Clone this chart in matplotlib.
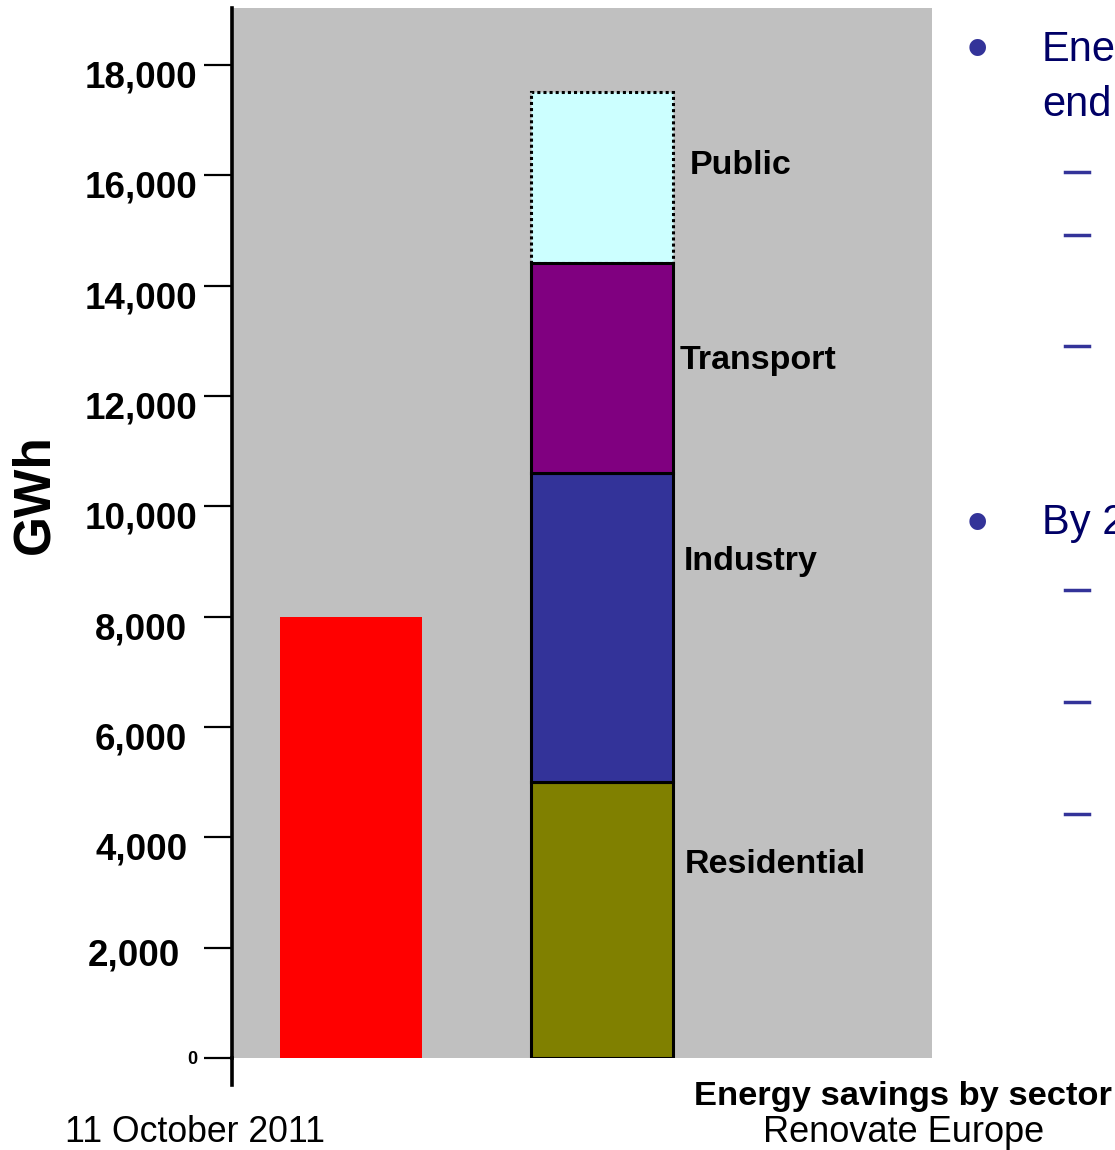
import matplotlib
matplotlib.use("Agg")
import matplotlib.pyplot as plt
import matplotlib.transforms as mtransforms
from matplotlib.lines import Line2D

plt.rcParams['font.family'] = ['Liberation Sans', 'DejaVu Sans']

# ---- data ----
baseline_value = 8000
sectors = ["Residential", "Industry", "Transport", "Public"]
sector_values = [5000, 5600, 3800, 3100]
sector_colors = ["#808000", "#333399", "#800080", "#CCFFFF"]
yticks = [0, 2000, 4000, 6000, 8000, 10000, 12000, 14000, 16000, 18000]
ytick_labels = ["0", "2,000", "4,000", "6,000", "8,000", "10,000",
                "12,000", "14,000", "16,000", "18,000"]
label_pos_y = [3500, 9000, 12640, 16180]
label_pos_x = [1.333, 1.329, 1.313, 1.353]

fig = plt.figure(figsize=(11.15, 11.5), dpi=100)
ax = fig.add_axes([232/1115, 92/1150, 700/1115, 1050/1150])
ax.set_facecolor("#C0C0C0")

bw = 0.567
ax.bar(0, baseline_value, width=bw, color="#FF0000", edgecolor="none")

bottom = 0
for name, val, col in zip(sectors, sector_values, sector_colors):
    if name == "Public":
        ax.bar(1, val, width=bw, bottom=bottom, color=col,
               edgecolor="black", linewidth=2.2, linestyle=(0, (1, 1)), zorder=2)
    else:
        ax.bar(1, val, width=bw, bottom=bottom, color=col,
               edgecolor="black", linewidth=2.2, zorder=3)
    bottom += val

for name, lx, ly in zip(sectors, label_pos_x, label_pos_y):
    ax.text(lx, ly, name, fontsize=24.5, fontweight="bold", ha="left",
            va="center", color="black")

ax.set_xlim(-0.475, 2.319)
ax.set_ylim(0, 19030)
ax.set_xticks([])
ax.set_yticks(yticks)
ax.set_yticklabels(ytick_labels)
ax.tick_params(axis="y", direction="out", length=20, width=1.6, pad=5,
               labelsize=26.5)
for lab in ax.get_yticklabels():
    lab.set_fontweight("bold")
    dx, dy = 0, -9
    if lab.get_text() == "0":
        lab.set_fontsize(13)
        dx, dy = 0, 0
    elif lab.get_text() == "2,000":
        dx, dy = -17, -4
    elif lab.get_text() in ("8,000", "6,000", "4,000"):
        dx = -10
    lab.set_transform(lab.get_transform() +
                      mtransforms.ScaledTranslation(dx/100, dy/100, fig.dpi_scale_trans))

for s in ["top", "right", "bottom"]:
    ax.spines[s].set_visible(False)
ax.spines["left"].set_linewidth(2.6)
ax.add_line(Line2D([0, 0], [-0.026, 0], transform=ax.transAxes,
                   color="black", linewidth=2.6, clip_on=False))

fig.text(35/1115, 1 - 494/1150, "GWh", rotation=90, fontsize=37,
         fontweight="bold", ha="center", va="center")

# bottom texts
fig.text(903/1115, 1 - 1096/1150, "Energy savings by sector", fontsize=24.8,
         fontweight="bold", ha="center", va="center")
fig.text(904/1115, 1 - 1132/1150, "Renovate Europe", fontsize=26,
         ha="center", va="center")
fig.text(195/1115, 1 - 1132/1150, "11 October 2011", fontsize=25.7,
         ha="center", va="center")

# slide text on right (cut off at the slide edge, as in the source)
navy = "#000066"
blue = "#333399"
fig.text(977/1115, 1 - 52/1150, "\u2022", fontsize=44, color=blue,
         ha="center", va="center")
fig.text(1042/1115, 1 - 50/1150, "Ene", fontsize=30, color=navy,
         ha="left", va="center")
fig.text(1042/1115, 1 - 105/1150, "end", fontsize=30, color=navy,
         ha="left", va="center")
fig.text(977/1115, 1 - 526/1150, "\u2022", fontsize=44, color=blue,
         ha="center", va="center")
fig.text(1042/1115, 1 - 523/1150, "By 2", fontsize=30, color=navy,
         ha="left", va="center")
for yy in [172, 235, 346, 590, 702, 814]:
    fig.add_artist(Line2D([1065/1115, 1089/1115], [1 - yy/1150, 1 - yy/1150],
                          color=blue, linewidth=2.5))

fig.savefig("out.png", dpi=100)
